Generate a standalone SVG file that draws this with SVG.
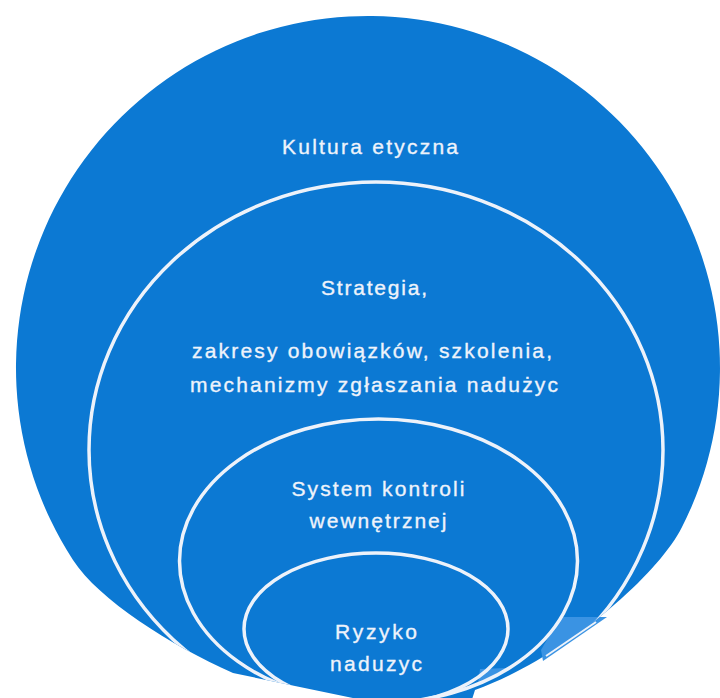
<svg xmlns="http://www.w3.org/2000/svg" width="720" height="698" viewBox="0 0 720 698">
  <style>
    .lbl { font-family: "Liberation Sans", Arial, sans-serif; font-size: 21px; fill: #eef3fb; stroke: #eef3fb; stroke-width: 0.35; text-anchor: middle; }
    .ring { fill: none; stroke: #edf2fa; stroke-width: 3.5; }
  </style>
  <defs>
    <path id="outerShape" d="M 233,673 C 170,645 99,600 73,560 A 352 352 0 1 1 682,527 C 657,577 560,660 475,690 L 468,712 L 420,712 Z"/>
    <clipPath id="clipOuter">
      <use href="#outerShape"/>
    </clipPath>
  </defs>
  <rect width="720" height="698" fill="#ffffff"/>

  <g id="kultura-etyczna">
    <use href="#outerShape" fill="#0c79d3"/>
    <text class="lbl" x="370" y="154" textLength="176" lengthAdjust="spacing">Kultura etyczna</text>
  </g>

  <g id="artifacts">
    <polygon points="560,617 607,617 543,661 541,650" fill="#3a93e3"/>
    <line x1="596" y1="622" x2="546" y2="656" stroke="#edf2fa" stroke-width="2"/>
    <polygon points="480,669 507,668 478,684" fill="#3a93e3"/>
  </g>

  <g id="strategia">
    <ellipse class="ring" cx="376" cy="450" rx="287" ry="268" clip-path="url(#clipOuter)"/>
    <text class="lbl" x="374" y="295" textLength="106" lengthAdjust="spacing">Strategia,</text>
    <text class="lbl" x="372" y="358" textLength="360" lengthAdjust="spacing">zakresy obowiązków, szkolenia,</text>
    <text class="lbl" x="374" y="392" textLength="368" lengthAdjust="spacing">mechanizmy zgłaszania nadużyc</text>
  </g>

  <g id="system-kontroli">
    <ellipse class="ring" cx="378.5" cy="561" rx="199" ry="142" clip-path="url(#clipOuter)"/>
    <text class="lbl" x="378" y="496" textLength="173" lengthAdjust="spacing">System kontroli</text>
    <text class="lbl" x="378" y="528" textLength="137" lengthAdjust="spacing">wewnętrznej</text>
  </g>

  <g id="ryzyko">
    <ellipse class="ring" cx="376" cy="629" rx="132" ry="76" clip-path="url(#clipOuter)"/>
    <text class="lbl" x="376" y="639" textLength="82" lengthAdjust="spacing">Ryzyko</text>
    <text class="lbl" x="376" y="671" textLength="92" lengthAdjust="spacing">naduzyc</text>
  </g>

  <g id="connectors"/>
</svg>
